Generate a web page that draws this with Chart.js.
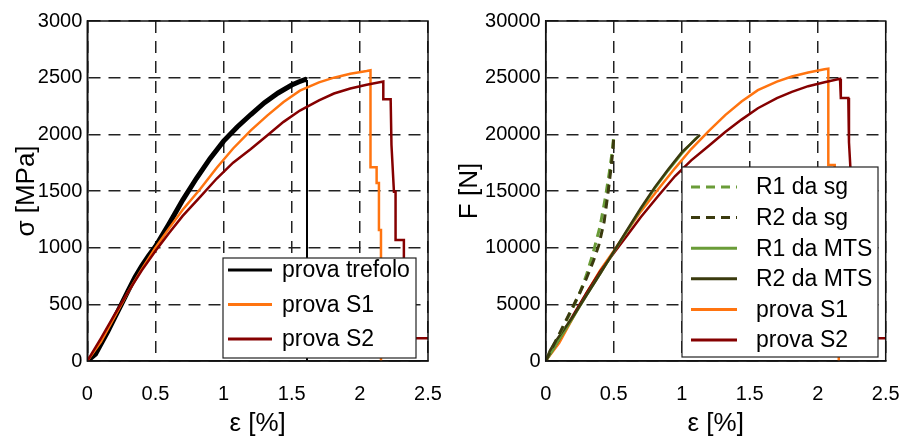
<!DOCTYPE html>
<html>
<head>
<meta charset="utf-8">
<script src="https://cdn.jsdelivr.net/npm/chart.js@4/dist/chart.umd.min.js"></script>
<style>
  html, body { margin: 0; padding: 0; background: #fff; }
  #wrap { position: relative; width: 903px; height: 441px; }
  canvas { position: absolute; top: 0; }
</style>
</head>
<body>
<div id="wrap">
  <canvas id="sigmaChart" width="450" height="441" style="left:0"></canvas>
  <canvas id="forceChart" width="453" height="441" style="left:450px"></canvas>
</div>
<script>
// data (strain in %, stress in MPa, force in N)

var xTicks = [0, 0.5, 1, 1.5, 2, 2.5];
var sigmaTicks = [0, 500, 1000, 1500, 2000, 2500, 3000];
var forceTicks = [0, 5000, 10000, 15000, 20000, 25000, 30000];

// left panel: sigma
var trefoloEps = [0, 0.03, 0.06, 0.1, 0.15, 0.2, 0.25, 0.3, 0.35, 0.4, 0.45, 0.5, 0.6, 0.7, 0.8, 0.9, 1.0, 1.1, 1.2, 1.3, 1.4, 1.5, 1.55, 1.6, 1.612, 1.612];
var trefoloSig = [0, 30, 60, 150, 260, 380, 500, 620, 740, 840, 930, 1010, 1210, 1420, 1610, 1785, 1940, 2065, 2175, 2280, 2365, 2435, 2462, 2485, 2480, 0];

var s1Eps = [0, 0.1, 0.2, 0.3, 0.4, 0.5, 0.6, 0.7, 0.83, 0.95, 1.07, 1.2, 1.32, 1.44, 1.56, 1.7, 1.81, 1.93, 2.05, 2.078, 2.078, 2.123, 2.123, 2.14, 2.14, 2.155, 2.155];
var s1Sig = [0, 170, 390, 610, 810, 1000, 1170, 1335, 1520, 1705, 1875, 2035, 2165, 2285, 2385, 2458, 2500, 2535, 2558, 2565, 1710, 1710, 1570, 1570, 1156, 1156, 0];

var s2Eps = [0, 0.1, 0.2, 0.3, 0.4, 0.5, 0.6, 0.7, 0.83, 0.95, 1.07, 1.2, 1.32, 1.44, 1.56, 1.7, 1.81, 1.93, 2.05, 2.172, 2.172, 2.226, 2.232, 2.25, 2.262, 2.262, 2.323, 2.323, 2.5];
var s2Sig = [0, 200, 410, 610, 800, 970, 1130, 1280, 1450, 1610, 1750, 1870, 1990, 2110, 2210, 2300, 2360, 2405, 2438, 2466, 2310, 2310, 1906, 1494, 1494, 1068, 1068, 200, 200];

// right panel: force
var r1SgEps = [0, 0.05, 0.1, 0.15, 0.2, 0.25, 0.3, 0.35, 0.4, 0.44, 0.47, 0.49, 0.5];
var r1SgF = [0, 1100, 2300, 3500, 4700, 6000, 7600, 9600, 11900, 14500, 16800, 18600, 19800];
var r2SgEps = [0, 0.05, 0.1, 0.15, 0.2, 0.25, 0.3, 0.35, 0.39, 0.43, 0.46, 0.48, 0.495, 0.5];
var r2SgF = [0, 1200, 2400, 3600, 4800, 6000, 7300, 8800, 10200, 12300, 15000, 17000, 18700, 19700];

var r1MtsEps = [0, 0.05, 0.1, 0.2, 0.3, 0.4, 0.5, 0.6, 0.7, 0.8, 0.9, 1.0, 1.1, 1.12];
var r1MtsF = [0, 900, 1900, 3800, 5800, 7700, 9600, 11500, 13400, 15200, 16800, 18300, 19600, 19800];
var r2MtsEps = [0, 0.03, 0.06, 0.1, 0.2, 0.3, 0.4, 0.5, 0.6, 0.7, 0.8, 0.9, 1.0, 1.07, 1.135];
var r2MtsF = [0, 900, 1500, 2200, 3900, 5800, 7700, 9650, 11600, 13500, 15300, 16900, 18400, 19200, 19950];

var s1FEps = [0, 0.1, 0.2, 0.3, 0.4, 0.5, 0.6, 0.7, 0.83, 0.95, 1.07, 1.2, 1.32, 1.44, 1.56, 1.7, 1.81, 1.93, 2.05, 2.078, 2.078, 2.125, 2.125, 2.14, 2.14, 2.155, 2.155];
var s1F = [0, 1600, 3800, 6000, 8000, 9700, 11500, 13200, 15200, 17000, 18700, 20300, 21700, 22900, 23900, 24650, 25100, 25450, 25750, 25800, 17300, 17300, 15800, 15800, 11600, 11600, 0];

var s2FEps = [0, 0.1, 0.2, 0.3, 0.4, 0.5, 0.6, 0.7, 0.83, 0.95, 1.07, 1.2, 1.32, 1.44, 1.56, 1.7, 1.81, 1.93, 2.05, 2.164, 2.17, 2.225, 2.23, 2.25, 2.262, 2.262, 2.323, 2.323, 2.5];
var s2F = [0, 1900, 4000, 6000, 7900, 9500, 11100, 12700, 14600, 16300, 17700, 19000, 20200, 21300, 22300, 23200, 23750, 24250, 24600, 24900, 23200, 23200, 19300, 15000, 15000, 10700, 10700, 2000, 2000];

function pts(xs, ys) {
  var out = [];
  for (var i = 0; i < xs.length; i++) out.push({x: xs[i], y: ys[i]});
  return out;
}

Chart.defaults.font.family = "'Liberation Sans', Arial, sans-serif";
Chart.defaults.color = '#000';

// box round the plot + legend with a frame, as in the original figure
var boxLegend = {
  id: 'boxLegend',
  afterDatasetsDraw: function(chart) {
    var a = chart.chartArea, ctx = chart.ctx;
    ctx.save();
    ctx.strokeStyle = '#111';
    ctx.lineWidth = 1.5;
    ctx.setLineDash([]);
    ctx.strokeRect(a.left, a.top, a.right - a.left, a.bottom - a.top);
    ctx.restore();
  },
  afterDraw: function(chart, args, o) {
    var ctx = chart.ctx;
    ctx.save();
    ctx.fillStyle = '#fff';
    ctx.fillRect(o.x, o.y, o.w, o.h);
    ctx.strokeStyle = '#222';
    ctx.lineWidth = 1.2;
    ctx.strokeRect(o.x, o.y, o.w, o.h);
    ctx.font = o.fontSize + "px 'Liberation Sans', Arial, sans-serif";
    ctx.textBaseline = 'middle';
    ctx.fillStyle = '#000';
    chart.data.datasets.forEach(function(ds, i) {
      var y = o.row0 + i * o.rowStep;
      ctx.beginPath();
      ctx.strokeStyle = ds.borderColor;
      ctx.lineWidth = 3;
      ctx.setLineDash(ds.borderDash || []);
      ctx.moveTo(o.line0, y);
      ctx.lineTo(o.line1, y);
      ctx.stroke();
      ctx.setLineDash([]);
      ctx.fillText(ds.label, o.textX, y + 1);
    });
    ctx.restore();
  }
};

function makeOptions(yTicks, yTitle, yWidth, padRight, titlePad, legend) {
  return {
    responsive: false,
    animation: false,
    layout: { padding: { top: 21, right: padRight, bottom: 0, left: 0 } },
    elements: { point: { radius: 0 }, line: { tension: 0 } },
    plugins: {
      legend: { display: false },
      tooltip: { enabled: false },
      boxLegend: legend
    },
    scales: {
      x: {
        type: 'linear',
        min: xTicks[0],
        max: xTicks[xTicks.length - 1],
        afterBuildTicks: function(s) { s.ticks = xTicks.map(function(v) { return {value: v}; }); },
        afterFit: function(s) { s.height = 80; },
        ticks: { font: { size: 20 }, padding: 0, maxRotation: 0, callback: function(v) { return String(v); } },
        grid: { color: '#222', lineWidth: 1.5, drawTicks: true, tickLength: 21, tickColor: 'rgba(0,0,0,0)' },
        border: { display: true, color: '#111', width: 1.5, dash: [12, 8] },
        title: { display: true, text: 'ε [%]', font: { size: 26 }, padding: { top: 0, bottom: 2 } }
      },
      y: {
        type: 'linear',
        min: yTicks[0],
        max: yTicks[yTicks.length - 1],
        afterBuildTicks: function(s) { s.ticks = yTicks.map(function(v) { return {value: v}; }); },
        afterFit: function(s) { s.width = yWidth; },
        ticks: { font: { size: 20 }, padding: 5, callback: function(v) { return String(v); } },
        grid: { color: '#222', lineWidth: 1.5, drawTicks: false },
        border: { display: true, color: '#111', width: 1.5, dash: [12, 8] },
        title: { display: true, text: yTitle, font: { size: 26 }, padding: { top: titlePad, bottom: 0 } }
      }
    }
  };
}

new Chart('sigmaChart', {
  type: 'line',
  data: {
    datasets: [
      {
        label: 'prova trefolo', data: pts(trefoloEps, trefoloSig), borderColor: '#000000', borderWidth: 5, order: 3,
        // the final drop at break is a thin vertical line
        segment: { borderWidth: function(c) { return c.p0.parsed.x === c.p1.parsed.x ? 2 : undefined; } }
      },
      { label: 'prova S1', data: pts(s1Eps, s1Sig), borderColor: '#ff7410', borderWidth: 2.5, order: 2 },
      { label: 'prova S2', data: pts(s2Eps, s2Sig), borderColor: '#850000', borderWidth: 2.5, order: 1 }
    ]
  },
  options: makeOptions(sigmaTicks, 'σ [MPa]', 87.3, 22, 11, {
    x: 223, y: 258, w: 193, h: 100, line0: 228, line1: 272, textX: 282, row0: 270, rowStep: 34.5, fontSize: 23
  }),
  plugins: [boxLegend]
});

new Chart('forceChart', {
  type: 'line',
  data: {
    datasets: [
      { label: 'R1 da sg', data: pts(r1SgEps, r1SgF), borderColor: '#6a9c38', borderWidth: 3, borderDash: [9, 6], order: 2 },
      { label: 'R2 da sg', data: pts(r2SgEps, r2SgF), borderColor: '#3a3a0e', borderWidth: 3, borderDash: [9, 6], order: 1 },
      { label: 'R1 da MTS', data: pts(r1MtsEps, r1MtsF), borderColor: '#6a9c38', borderWidth: 2.5, order: 4 },
      { label: 'R2 da MTS', data: pts(r2MtsEps, r2MtsF), borderColor: '#3a3a0e', borderWidth: 2.5, order: 3 },
      { label: 'prova S1', data: pts(s1FEps, s1F), borderColor: '#ff7410', borderWidth: 2.5, order: 6 },
      { label: 'prova S2', data: pts(s2FEps, s2F), borderColor: '#850000', borderWidth: 2.5, order: 5 }
    ]
  },
  options: makeOptions(forceTicks, 'F [N]', 95.7, 17.3, 4, {
    x: 232, y: 167, w: 196, h: 190, line0: 241, line1: 287, textX: 306, row0: 187, rowStep: 30.6, fontSize: 23
  }),
  plugins: [boxLegend]
});
</script>
</body>
</html>
